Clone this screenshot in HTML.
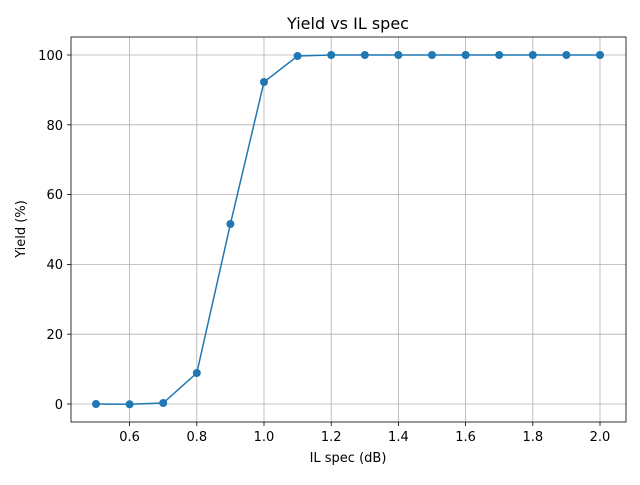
<!DOCTYPE html>
<html><head><style>body{margin:0;background:#fff}</style></head><body>
<svg width="640" height="480" xmlns="http://www.w3.org/2000/svg" font-family="DejaVu Sans, sans-serif">
<rect width="640" height="480" fill="#fff"/>
<g stroke="#b0b0b0" stroke-width="0.8">
<line x1="129.6" y1="37" x2="129.6" y2="422"/><line x1="196.8" y1="37" x2="196.8" y2="422"/><line x1="264" y1="37" x2="264" y2="422"/><line x1="331.2" y1="37" x2="331.2" y2="422"/><line x1="398.4" y1="37" x2="398.4" y2="422"/><line x1="465.6" y1="37" x2="465.6" y2="422"/><line x1="532.8" y1="37" x2="532.8" y2="422"/><line x1="600" y1="37" x2="600" y2="422"/>
<line x1="71" y1="404" x2="626" y2="404"/><line x1="71" y1="334.2" x2="626" y2="334.2"/><line x1="71" y1="264.4" x2="626" y2="264.4"/><line x1="71" y1="194.6" x2="626" y2="194.6"/><line x1="71" y1="124.8" x2="626" y2="124.8"/><line x1="71" y1="55" x2="626" y2="55"/>
</g>
<rect x="71" y="37" width="555" height="385" fill="none" stroke="#000" stroke-width="0.8"/>
<g stroke="#000" stroke-width="0.8">
<line x1="129.6" y1="422" x2="129.6" y2="426"/><line x1="196.8" y1="422" x2="196.8" y2="426"/><line x1="264" y1="422" x2="264" y2="426"/><line x1="331.2" y1="422" x2="331.2" y2="426"/><line x1="398.4" y1="422" x2="398.4" y2="426"/><line x1="465.6" y1="422" x2="465.6" y2="426"/><line x1="532.8" y1="422" x2="532.8" y2="426"/><line x1="600" y1="422" x2="600" y2="426"/>
<line x1="67" y1="404" x2="71" y2="404"/><line x1="67" y1="334.2" x2="71" y2="334.2"/><line x1="67" y1="264.4" x2="71" y2="264.4"/><line x1="67" y1="194.6" x2="71" y2="194.6"/><line x1="67" y1="124.8" x2="71" y2="124.8"/><line x1="67" y1="55" x2="71" y2="55"/>
</g>
<g font-size="13" text-anchor="middle" fill="#000">
<text x="129.6" y="441">0.6</text><text x="196.8" y="441">0.8</text><text x="264" y="441">1.0</text><text x="331.2" y="441">1.2</text><text x="398.4" y="441">1.4</text><text x="465.6" y="441">1.6</text><text x="532.8" y="441">1.8</text><text x="600" y="441">2.0</text>
</g>
<g font-size="13" text-anchor="end" fill="#000">
<text x="63" y="409">0</text><text x="63" y="339">20</text><text x="63" y="269">40</text><text x="63" y="199">60</text><text x="63" y="130">80</text><text x="63" y="60">100</text>
</g>
<text x="348" y="462" font-size="13" text-anchor="middle">IL spec (dB)</text>
<text x="25" y="229" font-size="13" text-anchor="middle" transform="rotate(-90 25 229)">Yield (%)</text>
<text x="348" y="29" font-size="16" text-anchor="middle">Yield vs IL spec</text>
<polyline fill="none" stroke="#1f77b4" stroke-width="1.5" points="96,404 129.6,404.3 163.2,403 196.8,373 230.4,224 264,82 297.6,56 331.2,55 364.8,55 398.4,55 432,55 465.6,55 499.2,55 532.8,55 566.4,55 600,55"/>
<g fill="#1f77b4">
<circle cx="96" cy="404" r="4"/><circle cx="129.6" cy="404.3" r="4"/><circle cx="163.2" cy="403" r="4"/><circle cx="196.8" cy="373" r="4"/><circle cx="230.4" cy="224" r="4"/><circle cx="264" cy="82" r="4"/><circle cx="297.6" cy="56" r="4"/><circle cx="331.2" cy="55" r="4"/><circle cx="364.8" cy="55" r="4"/><circle cx="398.4" cy="55" r="4"/><circle cx="432" cy="55" r="4"/><circle cx="465.6" cy="55" r="4"/><circle cx="499.2" cy="55" r="4"/><circle cx="532.8" cy="55" r="4"/><circle cx="566.4" cy="55" r="4"/><circle cx="600" cy="55" r="4"/>
</g>
</svg>
</body></html>
